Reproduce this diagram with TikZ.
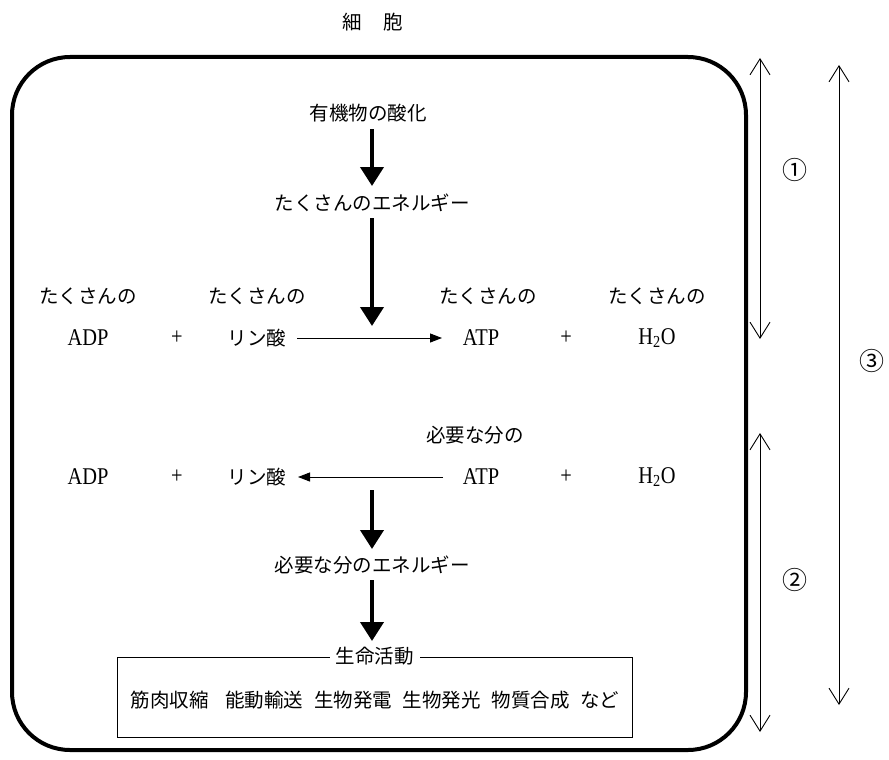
\documentclass[tikz,border=0pt]{standalone}
\usepackage{fontspec}
\setmainfont{Liberation Serif}
\newfontfamily\jp{Noto Sans CJK JP}
\newfontfamily\latc{Liberation Serif}[FakeStretch=0.85]
\usetikzlibrary{arrows.meta}
\begin{document}
\begin{tikzpicture}[x=1pt,y=-1pt,
  txt/.style={inner sep=1pt,font=\jp\fontsize{19.5}{22}\selectfont},
  lat/.style={inner sep=1pt,font=\latc\fontsize{24}{26}\selectfont},
  circ/.style={inner sep=1pt,font=\jp\fontsize{25}{27}\selectfont},
  bigarrow/.style={line width=4pt,-{Triangle[length=19pt,width=23pt]}},
  thinarrow/.style={line width=1pt,-{Triangle[length=12pt,width=9pt]}},
  rangearrow/.style={line width=0.9pt,{Straight Barb[length=16pt,width=20pt]}-{Straight Barb[length=16pt,width=20pt]}}]
\useasboundingbox (0,0) rectangle (889,760);
% title
\node[txt] (title) at (373,22) {細\hspace{1.1em}胞};
% cell
\draw[line width=4pt,rounded corners=58pt] (12,57) rectangle (746,750);
% top chain
\node[txt] (oxid) at (368,113) {有機物の酸化};
\node[txt] (ene1) at (372,203) {たくさんのエネルギー};
\draw[bigarrow] (372,129) -- (372,186);
\coordinate (mid1) at (372,326);
\coordinate (e1s) at (372,218);
\draw[bigarrow] (e1s) -- (mid1);
% row 1
\node[txt] (t1) at (88,296) {たくさんの};
\node[txt] (t2) at (257,296) {たくさんの};
\node[txt] (t3) at (488,296) {たくさんの};
\node[txt] (t4) at (657,296) {たくさんの};
\node[lat] (adp1) at (88,338) {ADP};
\node[lat] (p1) at (177,338) {+};
\node[txt] (rin1) at (257,338) {リン酸};
\node[lat] (atp1) at (481,338) {ATP};
\node[lat] (p2) at (566,338) {+};
\node[lat] (h1) at (657,338) {H\textsubscript{2}O};
\draw[thinarrow] (297,338) -- (442,338);
% row 2
\node[txt] (need) at (475,435) {必要な分の};
\node[lat] (adp2) at (88,477) {ADP};
\node[lat] (p3) at (177,477) {+};
\node[txt] (rin2) at (257,477) {リン酸};
\node[lat] (atp2) at (481,477) {ATP};
\node[lat] (p4) at (566,477) {+};
\node[lat] (h2) at (657,477) {H\textsubscript{2}O};
\draw[thinarrow] (443,477) -- (298,477);
% lower chain
\node[txt] (ene2) at (372,565) {必要な分のエネルギー};
\draw[bigarrow] (372,490) -- (372,549);
\node[draw,line width=0.9pt,minimum width=515pt,minimum height=80pt,inner sep=0pt] (box) at (374.5,697) {};
\draw[bigarrow] (372,580) -- (372,641);
\node[txt,fill=white,inner xsep=6pt] (life) at (box.north) {生命活動};
\node[txt] (acts) at (375,700) {筋肉収縮\hspace{0.85em}能動輸送\hspace{0.55em}生物発電\hspace{0.55em}生物発光\hspace{0.55em}物質合成\hspace{0.55em}など};
% ranges
\coordinate (r1t) at (760,58);
\coordinate (r1b) at (760,339);
\coordinate (r2t) at (760,433);
\coordinate (r2b) at (760,732);
\coordinate (r3t) at (839,65);
\coordinate (r3b) at (839,705);
\draw[rangearrow] (r1t) -- (r1b);
\draw[rangearrow] (r2t) -- (r2b);
\draw[rangearrow] (r3t) -- (r3b);
\node[circ] (c1) at (795,170) {①};
\node[circ] (c2) at (795,580) {②};
\node[circ] (c3) at (872,361) {③};
\end{tikzpicture}
\end{document}
